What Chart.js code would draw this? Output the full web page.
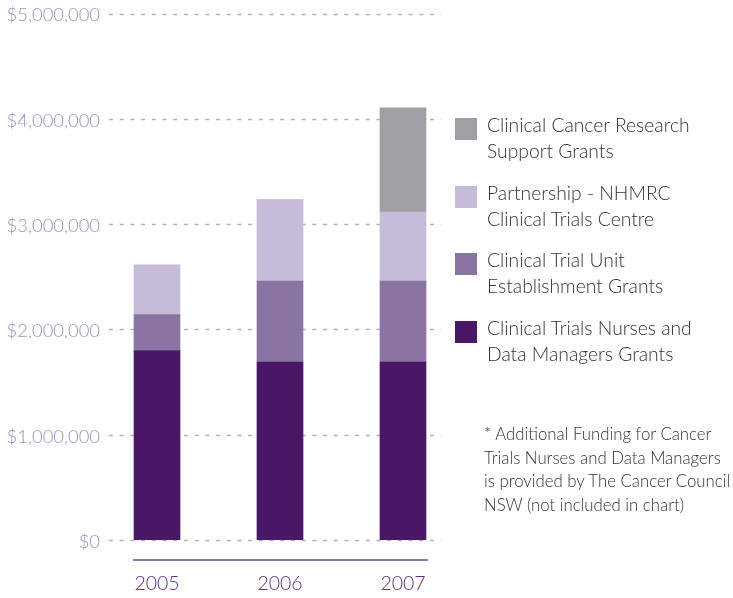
<!DOCTYPE html>
<html>
<head>
<meta charset="utf-8">
<script src="https://cdn.jsdelivr.net/npm/chart.js@4/dist/chart.umd.min.js"></script>
<style>
  html, body { margin: 0; padding: 0; background: #fff; }
  #wrap { position: relative; width: 733px; height: 598px; overflow: hidden; font-family: "Lato", "Open Sans", sans-serif; }
  #c { position: absolute; left: 0; top: 0; }
  #legend { position: absolute; left: 455px; top: 0; }
  .item { position: absolute; left: 0; width: 280px; }
  .box { position: absolute; left: 0; top: 0; width: 22px; height: 22px; }
  .txt { position: absolute; left: 32px; top: -6px; font-size: 19.3px; line-height: 26px; color: #333; font-weight: 300; white-space: nowrap; }
  #note { position: absolute; left: 484px; top: 422px; font-size: 16.8px; line-height: 23.7px; color: #333; font-weight: 300; white-space: nowrap; }
</style>
</head>
<body>
<div id="wrap">
  <canvas id="c" width="733" height="598"></canvas>
  <div id="legend"></div>
  <div id="note">* Additional Funding for Cancer<br>Trials Nurses and Data Managers<br>is provided by The Cancer Council<br>NSW (not included in chart)</div>
</div>
<script>
const years = ['2005', '2006', '2007'];
const nursesGrants = [1800000, 1690000, 1690000];
const unitGrants = [340000, 770000, 770000];
const partnershipGrants = [470000, 770000, 655000];
const researchGrants = [0, 0, 990000];
const yTicks = [0, 1000000, 2000000, 3000000, 4000000, 5000000];

const seriesNames = [
  ['Clinical Trials Nurses and', 'Data Managers Grants'],
  ['Clinical Trial Unit', 'Establishment Grants'],
  ['Partnership - NHMRC', 'Clinical Trials Centre'],
  ['Clinical Cancer Research', 'Support Grants']
];
const seriesColors = ['#491766', '#8a74a4', '#c5bdd7', '#a09fa3'];
const seriesData = [nursesGrants, unitGrants, partnershipGrants, researchGrants];

const fmt = v => '$' + Number(v).toLocaleString('en-US');

const gridPlugin = {
  id: 'customGrid',
  beforeDatasetsDraw(chart) {
    const ctx = chart.ctx;
    const y = chart.scales.y;
    ctx.save();
    ctx.strokeStyle = '#b4aad2';
    ctx.lineWidth = 1.3;
    ctx.setLineDash([4, 6.7]);
    yTicks.forEach(v => {
      const py = Math.round(y.getPixelForValue(v)) + 0.5;
      ctx.beginPath();
      ctx.moveTo(109, py);
      ctx.lineTo(441, py);
      ctx.stroke();
    });
    ctx.setLineDash([]);
    const ay = y.getPixelForValue(0) + 20;
    ctx.strokeStyle = '#6a4591';
    ctx.lineWidth = 1.5;
    ctx.beginPath();
    ctx.moveTo(133, ay);
    ctx.lineTo(428, ay);
    ctx.stroke();
    ctx.fillStyle = '#9d8fc0';
    ctx.font = '300 18.4px Lato';
    ctx.textAlign = 'right';
    ctx.textBaseline = 'middle';
    yTicks.forEach(v => {
      ctx.fillText(fmt(v), 100, y.getPixelForValue(v) + 2);
    });
    ctx.restore();
  }
};

const chart = new Chart(document.getElementById('c'), {
  type: 'bar',
  data: {
    labels: years,
    datasets: seriesData.map((d, i) => ({
      label: seriesNames[i].join(' '),
      data: d,
      backgroundColor: seriesColors[i],
      borderWidth: 0,
      barThickness: 46
    }))
  },
  options: {
    responsive: false,
    animation: false,
    layout: { autoPadding: false, padding: { top: 13.5, left: 0, right: 268.5, bottom: 0 } },
    plugins: { legend: { display: false }, tooltip: { enabled: false } },
    scales: {
      x: {
        stacked: true,
        grid: { display: false, drawTicks: false },
        border: { display: false },
        afterFit: s => { s.height = 58; },
        ticks: { padding: 32, color: '#5e2f87', font: { family: 'Lato', size: 19.5, weight: 300 } }
      },
      y: {
        stacked: true,
        min: 0, max: 5000000,
        afterBuildTicks: s => { s.ticks = yTicks.map(v => ({ value: v })); },
        afterFit: s => { s.width = 95.5; },
        grid: { display: false, drawTicks: false },
        border: { display: false },
        ticks: { display: false, callback: fmt }
      }
    }
  },
  plugins: [gridPlugin]
});

const legend = document.getElementById('legend');
const tops = [118, 185.5, 253, 320.5];
[3, 2, 1, 0].forEach((idx, k) => {
  const it = document.createElement('div');
  it.className = 'item';
  it.style.top = tops[k] + 'px';
  const b = document.createElement('div');
  b.className = 'box';
  b.style.background = seriesColors[idx];
  const t = document.createElement('div');
  t.className = 'txt';
  t.innerHTML = seriesNames[idx].join('<br>');
  it.appendChild(b); it.appendChild(t);
  legend.appendChild(it);
});
</script>
</body>
</html>
